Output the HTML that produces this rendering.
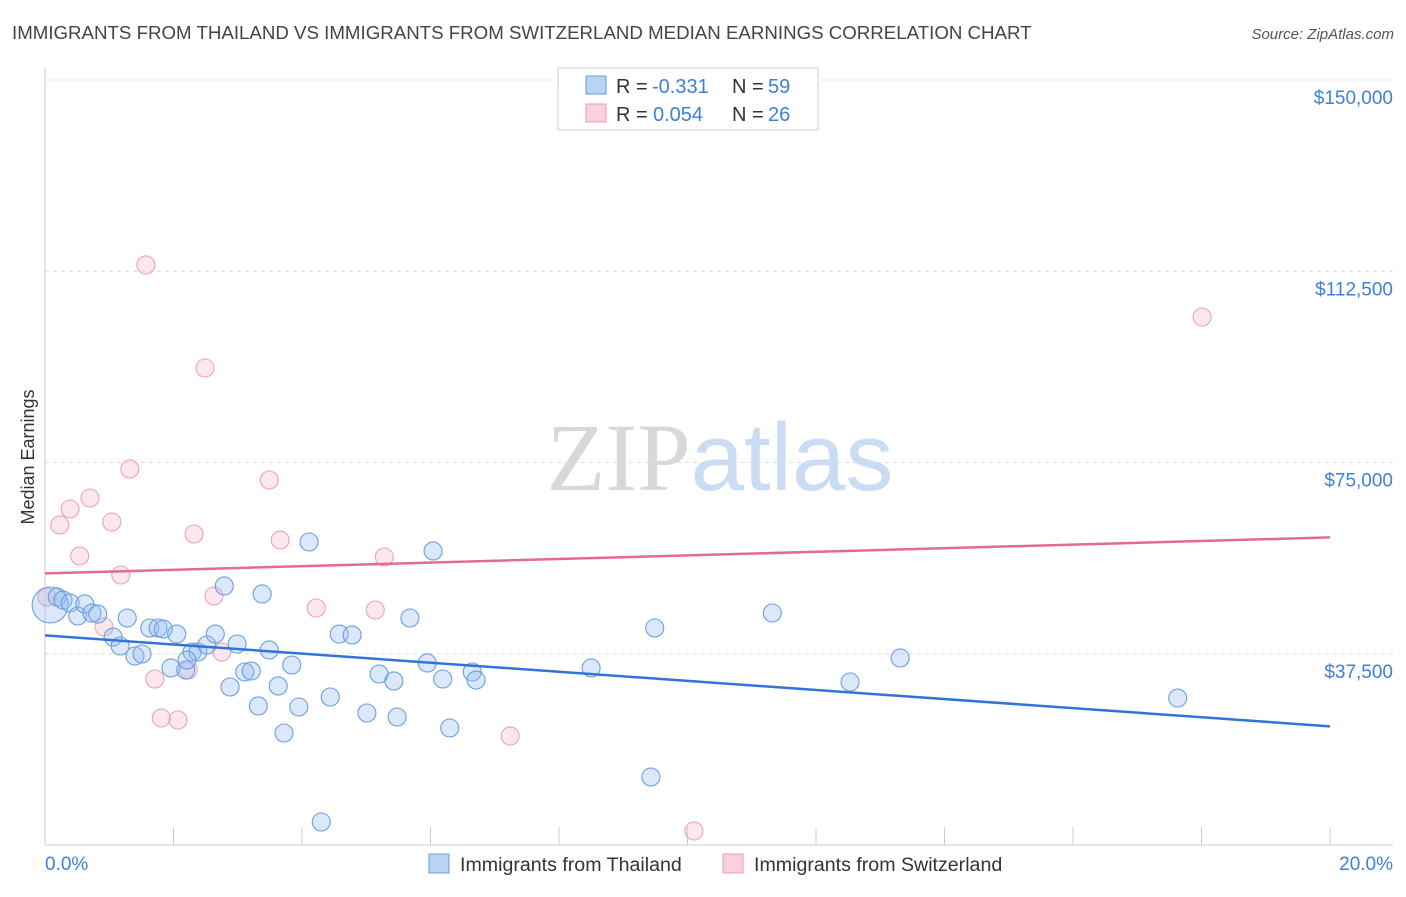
<!DOCTYPE html>
<html><head><meta charset="utf-8"><style>
body{margin:0;background:#fff;font-family:"Liberation Sans",sans-serif;}
</style></head><body>
<svg id="chart" width="1406" height="892" xmlns="http://www.w3.org/2000/svg" font-family="Liberation Sans, sans-serif">
<text x="12" y="39" font-size="18.7" fill="#444">IMMIGRANTS FROM THAILAND VS IMMIGRANTS FROM SWITZERLAND MEDIAN EARNINGS CORRELATION CHART</text>
<text x="1394" y="39" font-size="15" fill="#555" text-anchor="end" font-style="italic">Source: ZipAtlas.com</text>
<text x="720" y="490" font-size="96" text-anchor="middle"><tspan fill="#d8d8d8" font-family="Liberation Serif, serif">ZIP</tspan><tspan fill="#c9dcf3">atlas</tspan></text>
<g id="grid"></g>
<g id="axes"></g>
<g id="points"></g>
<g id="trend"></g>
<text transform="translate(34,457) rotate(-90)" font-size="18" fill="#333" text-anchor="middle">Median Earnings</text>
<g>
<rect x="558" y="68" width="260" height="62" fill="#fff" stroke="#ccc"/>
<rect x="586" y="76" width="20" height="18" fill="#b9d3f5" stroke="#6a9ede"/>
<rect x="586" y="104" width="20" height="18" fill="#fbd0dd" stroke="#e89ab5"/>
<text x="616" y="93" font-size="20" fill="#333">R =</text>
<text x="652" y="93" font-size="20" fill="#3f7fd6">-0.331</text>
<text x="732" y="93" font-size="20" fill="#333">N =</text>
<text x="768" y="93" font-size="20" fill="#3f7fd6">59</text>
<text x="616" y="121" font-size="20" fill="#333">R =</text>
<text x="653" y="121" font-size="20" fill="#3f7fd6">0.054</text>
<text x="732" y="121" font-size="20" fill="#333">N =</text>
<text x="768" y="121" font-size="20" fill="#3f7fd6">26</text>
</g>
<g>
<rect x="429" y="854" width="20" height="19" fill="#b9d3f5" stroke="#6a9ede"/>
<text x="460" y="871" font-size="19.6" fill="#333">Immigrants from Thailand</text>
<rect x="723" y="854" width="20" height="19" fill="#fbd0dd" stroke="#e89ab5"/>
<text x="754" y="871" font-size="19.6" fill="#333">Immigrants from Switzerland</text>
</g>
</svg>
<script>
const xTicks=[0,2,4,6,8,10,12,14,16,18,20];
const yTicks=[37500,75000,112500,150000];
const yTickLabels=["$37,500","$75,000","$112,500","$150,000"];
const thaiX=[0.08,0.19,0.28,0.39,0.51,0.62,0.73,0.82,1.06,1.17,1.28,1.40,1.51,1.63,1.76,1.84,1.96,2.05,2.19,2.29,2.38,2.52,2.65,2.79,2.88,2.99,3.11,3.21,3.32,3.38,3.49,3.63,3.72,3.84,3.95,4.11,4.30,4.44,4.58,4.78,5.01,5.20,5.43,5.48,5.68,5.95,6.04,6.19,6.30,6.65,6.71,8.50,9.43,9.49,11.32,12.53,13.31,17.63,2.21];
const thaiY=[47060,48630,48040,47450,44900,47260,45490,45290,40780,39020,44510,37060,37450,42550,42550,42350,34710,41370,34310,37840,37840,39220,41370,50790,30980,39410,33920,34120,27260,49220,38240,31180,21960,35290,27060,59410,4510,29020,41370,41180,25880,33530,32160,25100,44510,35690,57650,32550,22940,33920,32350,34710,13330,42550,45490,31960,36670,28820,36270];
const swissX=[0.03,0.23,0.39,0.54,0.70,0.92,1.04,1.18,1.32,1.57,1.71,1.81,2.07,2.23,2.32,2.49,2.63,2.75,3.49,3.66,4.22,5.14,5.28,7.24,10.10,18.01];
const swissY=[48630,62750,65880,56670,68040,42750,63330,52940,73730,113730,32550,24900,24510,34310,60980,93530,48820,37840,71570,59800,46470,46080,56470,21370,2750,103530];
const NS="http://www.w3.org/2000/svg";
const X0=45,X1=1330,Y0=845,Y150=80;
const xs=v=>X0+(X1-X0)*v/20;
const ys=v=>Y0-(Y0-Y150)*v/150000;
function mk(tag,attrs,parent){const e=document.createElementNS(NS,tag);for(const k in attrs)e.setAttribute(k,attrs[k]);document.getElementById(parent).appendChild(e);return e;}
yTicks.forEach((t,i)=>{
 const g=mk('line',{x1:X0,x2:1393,y1:ys(t),y2:ys(t),stroke:'#ddd','stroke-dasharray':'4,4'},'grid');
 
 
 const l=mk('text',{x:1393,y:ys(t)+24,'font-size':19,fill:'#3f7fd6','text-anchor':'end'},'axes');
 l.textContent=yTickLabels[i];
 
 
});
const ax=mk('line',{x1:X0,x2:1393,y1:Y0,y2:Y0,stroke:'#ccc'},'axes');


const ay=mk('line',{x1:X0,x2:X0,y1:68,y2:Y0,stroke:'#ccc'},'axes');


xTicks.forEach(t=>{
 const k=mk('line',{x1:xs(t),x2:xs(t),y1:Y0,y2:Y0-18,stroke:'#ccc'},'axes');
 
 
});
[[0,'0.0%','start',45],[20,'20.0%','end',1393]].forEach(([v,s,a,x])=>{
 const l=mk('text',{x:x,y:870,'font-size':19,fill:'#3f7fd6','text-anchor':a},'axes');
 l.textContent=s;
 
 
});
function pts(X,Y,fill,stroke,name){X.forEach((x,i)=>{
 const r=(i===0&&name==='thailand-point')?18:9;
 const c=mk('circle',{cx:xs(x),cy:ys(Y[i]),r:r,fill:fill,stroke:stroke,'stroke-width':1.1},'points');
 
 
});}
pts(swissX,swissY,'rgba(248,185,205,0.35)','#eaa2bb','switzerland-point');
pts(thaiX,thaiY,'rgba(150,190,240,0.35)','#6a9ede','thailand-point');
function reg(X,Y){const n=X.length;const mx=X.reduce((a,b)=>a+b)/n,my=Y.reduce((a,b)=>a+b)/n;let sxy=0,sxx=0;X.forEach((x,i)=>{sxy+=(x-mx)*(Y[i]-my);sxx+=(x-mx)*(x-mx);});const b=sxy/sxx;return [my-b*mx,b];}
[[thaiX,thaiY,'#2f74d6','thailand-trend-line'],[swissX,swissY,'#e46a93','switzerland-trend-line']].forEach(([X,Y,c,n])=>{
 const [a,b]=reg(X,Y);
 const l=mk('line',{x1:xs(0),y1:ys(a),x2:xs(20),y2:ys(a+b*20),stroke:c,'stroke-width':2.5},'trend');
 
 
});
</script>
</body></html>
